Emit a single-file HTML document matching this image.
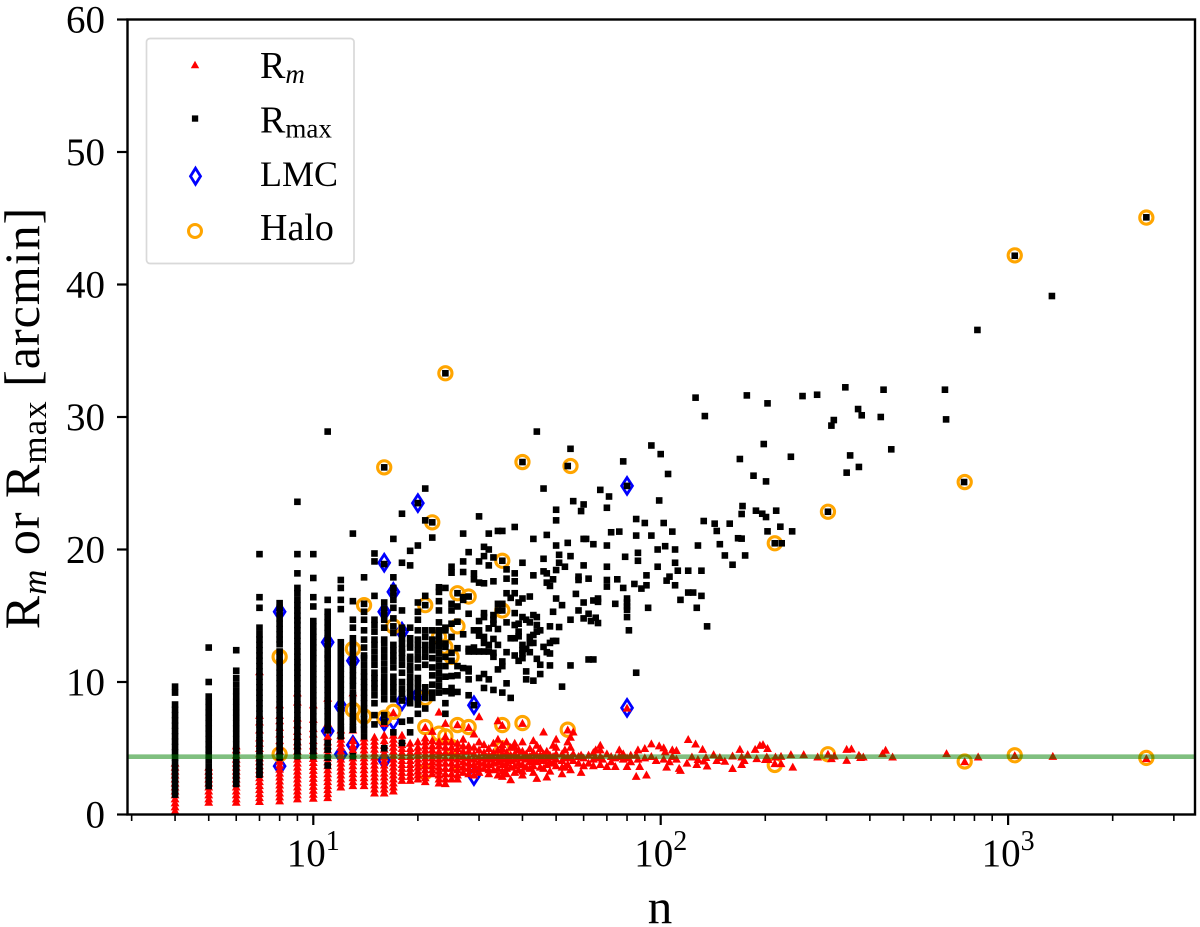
<!DOCTYPE html>
<html lang="en">
<head>
<meta charset="utf-8">
<title>Rm and Rmax versus n</title>
<style>
html,body{margin:0;padding:0;background:#fff;width:1200px;height:927px;overflow:hidden}
svg{display:block}
text{font-family:"Liberation Serif",serif;fill:#000}
</style>
</head>
<body>
<svg id="chart" width="1200" height="927" viewBox="0 0 1200 927" xmlns="http://www.w3.org/2000/svg">
  <g id="lmc-layer"></g>
  <g id="halo-layer"></g>
  <g id="rm-layer"></g>
  <g id="rmax-layer"></g>
  <g id="ref-layer"></g>
  <rect x="127.5" y="19.5" width="1067.5" height="795" fill="none" stroke="#000" stroke-width="2.4"></rect>
  <g id="tick-layer"></g>
  <text transform="translate(39,418) rotate(-90)" text-anchor="middle" font-size="50" style="letter-spacing:1px">R<tspan font-size="35" font-style="italic" dy="7">m</tspan><tspan dy="-7"> or R</tspan><tspan font-size="35" dy="7">max</tspan><tspan dy="-7"> [arcmin]</tspan></text>
  <text x="660" y="923" text-anchor="middle" font-size="49">n</text>
  <g>
    <rect x="146.5" y="38.5" width="207.5" height="225" rx="3.5" fill="#fff" fill-opacity="0.8" stroke="#d9d9d9" stroke-width="1.7"></rect>
    <polygon points="195,60.7 199.2,68.3 190.8,68.3" fill="#f00"></polygon>
    <text x="260" y="78" font-size="38">R<tspan font-size="27" font-style="italic" dy="5">m</tspan></text>
    <rect x="191.9" y="115.4" width="6.3" height="6.3" fill="#000"></rect>
    <text x="260" y="132.5" font-size="38">R<tspan font-size="27" dy="5">max</tspan></text>
    <polygon points="195.5,168.2 200.5,176.2 195.5,184.2 190.5,176.2" fill="none" stroke="#00f" stroke-width="2.8"></polygon>
    <text x="260" y="186" font-size="36">LMC</text>
    <circle cx="195" cy="231" r="6.5" fill="none" stroke="#ffa500" stroke-width="3"></circle>
    <text x="260" y="240" font-size="38">Halo</text>
  </g>
</svg>
<script>
const yTicks = [0, 10, 20, 30, 40, 50, 60];
const xMajorTicks = [10, 100, 1000];
const xMajorExponents = ["1", "2", "3"];
const xMinorTicks = [3, 4, 5, 6, 7, 8, 9, 20, 30, 40, 50, 60, 70, 80, 90, 200, 300, 400, 500, 600, 700, 800, 900, 2000, 3000];
const referenceLevel = [4.36];

const rmaxN = [4,5,6,7,8,9,10,11,12,13,14,15,16,17,18,19,20,21,22,23,24,25,26,27,28,29,30,31,32,33,34,35,36,37,38,39,40,41,42,43,44,45,46,47,48,49,50,51,52,53,54,55,56,57,58,59,60,61,62,63,64,65,66,67,70,71,72,74,75,76,78,79,80,81,84,85,86,88,90,91,92,94,98,99,100,102,103,104,105,106,108,110,112,114,120,124,126,127,128,131,133,134,136,143,145,148,153,158,161,167,169,171,172,175,177,185,188,196,198,201,203,213,215,221,223,237,239,256,282,303,310,315,340,343,351,370,372,379,430,438,461,658,663,747,816,1045,1337,2500];
const rmaxV = [
/*4*/[9.65,9.2,8.3,7.9,7.5,7.1,6.7,6.3,5.9,5.5,5.1,4.7,4.3,3.9,3.5,3.1,2.7,2.3,1.9,1.5],
/*5*/[12.6,10,8.9,8.5,8.1,7.7,7.3,6.9,6.5,6.1,5.7,5.3,4.9,4.5,4.1,3.6,3.2,2.8,2.4,2.15],
/*6*/[12.4,10.85,10.3,9.8,9.3,8.9,8.5,8.1,7.7,7.3,6.9,6.5,6.1,5.7,5.3,4.9,4.5,4.1,3.7,3.3,2.9,2.7,2.3],
/*7*/[19.65,16.4,15.6,14.1,13.6,13.2,12.8,12.4,12,11.6,11.2,10.8,10.4,10,9.6,9.2,8.8,8.4,8,7.6,7.2,6.8,6.4,6,5.6,5.2,4.8,4.4,4,3.6,3.2,3],
/*8*/[15.95,15.6,15.2,14.8,14.4,14,13.6,13.2,12.85,12.3,11.9,11.5,11.1,10.7,10.3,9.9,9.5,9.1,8.7,8.3,7.9,7.5,7.1,6.7,6.3,5.9,5.5,5.1,4.7,4.3],
/*9*/[23.6,19.65,18.2,17.1,16.7,16.2,15.8,15.4,15,14.65,14.3,13.9,13.5,13.1,12.7,12.3,11.9,11.5,11.1,10.7,10.3,9.9,9.5,9.1,8.7,8.3,7.9,7.5,7.1,6.7,6.3,5.9,5.5,5.2,4.8,4.4],
/*10*/[19.65,17.85,16.4,15.7,14.6,14.2,13.8,13.4,13,12.6,12.2,11.8,11.4,11,10.6,10.2,9.8,9.4,9,8.6,8.2,7.8,7.4,7,6.6,6.2,5.8,5.4,5,4.6,4.4],
/*11*/[28.9,16.2,15.3,14.9,14.5,14.1,13.7,13.3,12.9,12.5,12.05,11.8,11.4,11,10.6,10.2,9.8,9.4,9,8.6,8.2,7.8,7.4,7,6.6,6.35,5.4,4.9,4.3,3.7],
/*12*/[17.7,17.1,16.2,15.5,13,12.6,12.2,11.8,11.4,11,10.6,10.2,9.8,9.4,9,8.6,8.2,7.8,7.4,7,6.6,6.4,5.9],
/*13*/[21.2,16.1,14.7,14.1,13.3,12.9,12.5,12.1,11.7,11.3,10.9,10.5,10.1,9.7,9.2,9,8.6,8.2,7.8,7.4,7,6.6,6.4,4.4],
/*14*/[17.9,15.9,15.3,14.7,13.9,13.2,12.6,12,11.8,11.3,10.8,10.4,10,9.6,9.2,8.8,8.4,8,7.6,7.2,6.8,6.4,5.9],
/*15*/[19.7,19.1,16.5,14.7,14.3,13.8,13.2,12.8,12.3,11.8,11.3,10.7,10.3,9.9,9.5,9,8.4,7.5,6.8],
/*16*/[26.2,18.9,16,15.5,15.1,14.7,14.1,13.2,12.9,12.4,11.9,11.4,10.9,10.4,10,9.6,9.2,8.7,7.5,7,5],
/*17*/[20.8,17.9,17.1,16.7,16.2,15.6,14.8,14.2,13.7,12.8,12.4,12,11.6,11.1,10.4,10,9.6,9.2,8.7,6.2],
/*18*/[22.7,19,15.4,14.1,13.7,13.3,12.9,12.5,12.2,11.8,11.3,10.7,10,9.5,9.1,8.6,7,5.4],
/*19*/[19.9,18.8,14.1,13.3,12.9,12.6,11.9,11.7,11.2,10.9,10.4,10,9.6,9.2,8.8,8.4,7.1,6.2],
/*20*/[23.5,20.3,16,15.3,14.7,13.9,13.2,12.8,12.4,11.9,11.7,11.1,10.3,9.9,9.5,9.1,8.7,8.3,7.6],
/*21*/[24.6,22.2,16.5,15.8,13.9,13.4,12.8,12.4,11.9,11.3,9.6,9.2,8.8,8],
/*22*/[22.05,20.9,13.9,13.2,12.8,12.4,11.8,11.1,10.5,9.8,9.2,8.8],
/*23*/[17.15,16.8,16.1,15.4,14.5,13.9,13.5,13.1,12.7,12.2,11.7,11.2,10.7,10.2,9.7,9.2],
/*24*/[33.3,17.1,14.1,13.9,12.9,12.65,11.9,11.2,10.4,9.3,8.4,7.6],
/*25*/[18.7,18.25,15.9,15.4,14.4,13.4,12.2,11.6,10.45,9.55,9.15],
/*26*/[16.7,15.7,14.55,12.55,11.2,10.5,9.25],
/*27*/[21.2,19.1,18.3,16.4,16.2,13.6,11.05],
/*28*/[19.8,16.45,15.15,12.5,12.3,11,10.8,10.2,9],
/*29*/[18.2,17.75,13.9,12.6,12.3,8.25],
/*30*/[22.5,19.1,17.5,14.6,13.9,13.5,12.3,10.3],
/*31*/[20.2,19.5,17.45,15.2,14.9,13.4,12.95,12.3,10.6,9.55],
/*32*/[21.2,20,18.8,14.05,12.8,12.3,10.2],
/*33*/[19.4,17.6,15.05,14.7,14.4,13.25,12.2,11.9,9.4],
/*34*/[21.4,15.9,15.4,14,12.8,10.95],
/*35*/[21.4,19.15,15.9,15.4,11.55,11.2,9.2],
/*36*/[18.5,17.8,16.7,14.5,12.25,9.9],
/*37*/[16.35,13.3,8.8],
/*38*/[21.7,18.2,17.6,16.7,15.2,14.3,13.3,12],
/*39*/[16,14.4,13.8,13.45,11.6],
/*40*/[26.6,19,16.3,14.9,12.8,12.4,12.15,11.8],
/*41*/[14.7,12.5,10.8,10.2],
/*42*/[16.45,14.5,13.4,12.95,12.25],
/*43*/[20.8,18.05,15.05,13.55,12.95,10.1],
/*44*/[28.9,14.9,14.3,13.8,11.75],
/*45*/[13.9,11.3,10.6],
/*46*/[24.6,19.3,18.35,12.65],
/*47*/[21.1,18.2,17.5,12.25],
/*48*/[17.25,14.2,12.95,12.15,11.25],
/*49*/[17.75,15.3,13.1],
/*50*/[23,22.2,20.3,18.45,16.3,13.1],
/*51*/[19.6,19,14.15],
/*52*/[15.8,9.65],
/*53*/[18.7],
/*54*/[26.3,20.5],
/*55*/[27.6,19.5,14.7,11.25],
/*56*/[23.65],
/*57*/[16.65],
/*58*/[17.95,17.7,15.4],
/*59*/[22.9],
/*60*/[23.4,20.8,18.8,16,14.8],
/*61*/[20.8],
/*62*/[17.8,15.15,11.7],
/*63*/[14.6],
/*64*/[20.4,16.15,11.7],
/*65*/[14.85],
/*66*/[16.3,16.05,14.45],
/*67*/[24.5],
/*70*/[23.15,20.3,18.7,17.7,17.2],
/*71*/[24],
/*72*/[21.3],
/*74*/[15.9],
/*75*/[17.75],
/*76*/[21.35],
/*78*/[26.65,17.1],
/*79*/[19.45],
/*80*/[24.8,16.3,16,15.7,15.45,14.9],
/*81*/[13.9],
/*84*/[17.4],
/*85*/[22.3,21.05,10.7],
/*86*/[19.75,19.15],
/*88*/[17.05],
/*90*/[22],
/*91*/[18.05,17.3],
/*92*/[15.6],
/*94*/[27.85,21.05],
/*98*/[20,18.7],
/*99*/[23.7],
/*100*/[27.2],
/*102*/[22],
/*103*/[20.25],
/*104*/[17.65],
/*105*/[25.7],
/*106*/[17.95],
/*108*/[21.35],
/*110*/[20,19,17.3],
/*112*/[18.4],
/*114*/[16.2],
/*120*/[18.4,16.75],
/*124*/[16.75],
/*126*/[31.46],
/*127*/[15.6],
/*128*/[20.3],
/*131*/[18.4,16.5],
/*133*/[22.15],
/*134*/[30.07],
/*136*/[14.2],
/*143*/[21.95],
/*145*/[21.4],
/*148*/[20.4],
/*153*/[19.55],
/*158*/[21.95],
/*161*/[18.85],
/*167*/[20.85],
/*169*/[26.83],
/*171*/[22.68,20.82],
/*172*/[23.28],
/*175*/[19.55],
/*177*/[31.63],
/*185*/[25.57],
/*188*/[22.93],
/*196*/[22.7],
/*198*/[27.96],
/*201*/[25.14,22.45],
/*203*/[31.03,21.37],
/*213*/[20.47],
/*215*/[22.93],
/*221*/[21.72],
/*223*/[20.47],
/*237*/[27],
/*239*/[21.37],
/*256*/[31.58],
/*282*/[31.68],
/*303*/[22.85],
/*310*/[29.35],
/*315*/[29.77],
/*340*/[32.24],
/*343*/[25.8],
/*351*/[27.1],
/*370*/[30.6],
/*372*/[26.23],
/*379*/[30.13],
/*430*/[30],
/*438*/[32.06],
/*461*/[27.56],
/*658*/[32.06],
/*663*/[29.82],
/*747*/[25.09],
/*816*/[36.57],
/*1045*/[42.17],
/*1337*/[39.13],
/*2500*/[45.07]
];

const rmN = [4,5,6,7,8,9,10,11,12,13,14,15,16,17,18,19,20,21,22,23,24,25,26,27,28,29,30,31,32,33,34,35,36,37,38,39,40,41,42,43,44,45,46,47,48,49,50,52,53,54,55,56,58,59,60,62,64,65,67,68,70,72,74,76,78,80,82,85,86,87,90,91,94,97,99,102,103,104,106,108,111,113,114,119,120,123,126,127,128,132,133,135,136,142,145,148,153,161,169,171,174,178,187,189,193,197,200,202,203,204,213,214,222,237,240,258,283,303,310,316,343,354,372,376,383,435,444,465,665,750,820,1045,1345,2500];
const rmV = [
/*4*/[0.3,0.6,0.9,1.2,1.5,1.8,2.1,2.4,2.7,3,3.3,3.6,3.9],
/*5*/[0.95,1.2,1.5,1.8,2.1,2.4,2.7,3,3.3,3.6],
/*6*/[0.95,1.2,1.5,1.8,2.1,2.4,2.7,3,3.3,3.6,3.9,4.2,4.5,4.9,5.2],
/*7*/[1,1.3,1.6,1.9,2.2,2.5,2.8,3.1,3.4,3.7,4,4.3,4.6,5,5.4,5.8,6.4,7,7.5,10.8],
/*8*/[1.05,1.35,1.65,1.95,2.25,2.55,2.85,3.15,3.45,3.75,4.05,4.4,4.8,5.2,5.6,6.1,6.6,7.1,7.5,8.3],
/*9*/[1.2,1.5,1.8,2.1,2.4,2.7,3,3.3,3.6,3.9,4.2,4.5,4.8,5.2,5.5,5.9,6.3,6.8,7.3,8.5,9.2],
/*10*/[1.25,1.55,1.85,2.15,2.45,2.75,3.05,3.35,3.65,3.95,4.25,4.55,4.85,5.2,5.6,6.1,6.5,7.2,8.3],
/*11*/[1.3,1.6,1.9,2.2,2.5,2.8,3.1,3.4,3.7,4,4.3,4.6,4.9,5.2,5.5,5.9,6.4,6.9,8.8],
/*12*/[2.1,2.4,2.7,3,3.3,3.6,3.9,4.2,4.5,4.8,5.1,5.4,5.7,6,6.4],
/*13*/[2.2,2.5,2.8,3.1,3.4,3.7,4,4.3,4.6,4.9,5.2,5.6,6.4,9.2],
/*14*/[2.2,2.5,2.8,3.1,3.4,3.7,4,4.3,4.6,4.9,5.2,5.5,5.8],
/*15*/[1.65,1.95,2.25,2.55,2.85,3.15,3.45,3.75,4.05,4.35,4.65,4.95,5.25,5.55,5.85],
/*16*/[1.65,1.95,2.25,2.55,2.85,3.15,3.45,3.75,4.05,4.35,4.65,4.95,5.25,5.6,6,6.9],
/*17*/[1.8,2.1,2.4,2.7,3,3.3,3.6,3.9,4.2,4.5,4.8,5.1,5.4,5.7,6,7.7],
/*18*/[2.6,2.9,3.2,3.5,3.8,4.1,4.4,4.7,5,5.3,5.6,6],
/*19*/[2.6,2.9,3.2,3.5,3.8,4.1,4.4,4.7,5,5.4],
/*20*/[2.7,3,3.3,3.6,3.9,4.2,4.5,4.8,5.1,5.5],
/*21*/[2.5,2.8,3.1,3.4,3.7,4,4.3,4.6,4.9,5.2,5.5,5.8,6.6],
/*22*/[3.1,3.4,3.7,4,4.3,4.6,4.9,5.2,5.6,6.3],
/*23*/[2.4,2.7,3,3.3,3.6,3.9,4.2,4.5,4.8,5.2,5.5,7.75],
/*24*/[2.35,2.7,3.1,3.5,3.9,4.3,4.7,5.1,5.5,5.9,6.9],
/*25*/[2.7,3.1,3.5,3.9,4.3,4.7,5.1,5.5],
/*26*/[2.7,3,3.4,3.8,4.2,4.6,5,5.4,6.8],
/*27*/[3.2,3.6,4,4.4,4.8,5.2,5.7],
/*28*/[3.1,3.5,3.9,4.3,4.8,5.2,6.6],
/*29*/[3,3.4,3.8,4.2,4.6,5.1,6.1],
/*30*/[3.2,3.6,4,4.4,4.9,5.5,7.4],
/*31*/[3.5,3.9,4.3,4.7,5.3],
/*32*/[3.1,3.4,3.8,4.2,4.5,5],
/*33*/[3.4,3.9,4.3,4.7,5.4],
/*34*/[3,3.5,4,4.4,4.9,5.7,7.1],
/*35*/[2.9,3.3,3.8,4.2,4.6,5,5.3,6.75],
/*36*/[3.1,3.5,3.9,4.3,4.7,5.5],
/*37*/[2.65,3.6,4.1,4.5,5.1],
/*38*/[3.2,3.7,4.2,4.6,5.1,5.4],
/*39*/[3.4,3.9,4.4,4.9],
/*40*/[3,3.3,3.8,4.3,4.8,5.5,6.9],
/*41*/[3.6,4.2,4.6],
/*42*/[3.5,4,4.4,5],
/*43*/[3.2,3.7,4.2,4.7,5.6],
/*44*/[2.75,4,4.5,5.25],
/*45*/[3.6,4.2,4.5,5],
/*46*/[3.5,4.1,4.6,6.25],
/*47*/[2.85,3.8,4.3,4.8],
/*48*/[3.3,4,4.5],
/*49*/[3.9,4.4,5.25],
/*50*/[3.7,4.2,4.6,5.1,5.7],
/*52*/[3.1,3.6,4.1,4.6],
/*53*/[3.6,4.3,4.9],
/*54*/[3.8,4.4,5.5,6.4],
/*55*/[3.4,4.3,5.1,5.85],
/*56*/[4.1,4.6,6.25],
/*58*/[3.9,4.4],
/*59*/[3.2,4.5],
/*60*/[3.7,4.3],
/*62*/[3.9,4.5],
/*64*/[3.7,4.2,4.7],
/*65*/[4.3,4.9],
/*67*/[3.8,4.4,4.9,5.25],
/*68*/[4.2],
/*70*/[3.65,4.6],
/*72*/[4,4.4],
/*74*/[3.65,4.3],
/*76*/[4.4,4.9],
/*78*/[4.2,4.6],
/*80*/[3.65,4.3,8.05],
/*82*/[4,4.5],
/*85*/[2.9,4.5],
/*86*/[4.2,4.9],
/*87*/[3.65],
/*90*/[4.3,5],
/*91*/[3],
/*94*/[4.4,5.35],
/*97*/[4.1],
/*99*/[5.2],
/*102*/[4.2,5.05],
/*103*/[4.75],
/*104*/[3.6],
/*106*/[4],
/*108*/[4.4,4.9],
/*111*/[4.2,4.85],
/*113*/[3.5],
/*114*/[3.35],
/*119*/[3.9],
/*120*/[5.68],
/*123*/[4.36],
/*126*/[5.34],
/*127*/[3.8],
/*128*/[4.17],
/*132*/[4.94],
/*133*/[4.06],
/*135*/[4.32],
/*136*/[3.68],
/*142*/[4.54],
/*145*/[4.1],
/*148*/[4.32],
/*153*/[4.04],
/*161*/[4.44,3.49],
/*169*/[4.94],
/*171*/[4.36,3.8],
/*174*/[4.1],
/*178*/[4.54],
/*187*/[4.94],
/*189*/[4.24],
/*193*/[5.24],
/*197*/[5.3],
/*200*/[4.17],
/*202*/[4.36],
/*203*/[5],
/*204*/[4.17],
/*213*/[3.86],
/*214*/[4.36],
/*222*/[3.86,4.41],
/*237*/[4.54],
/*240*/[3.6],
/*258*/[4.54],
/*283*/[4.36],
/*303*/[4.57],
/*310*/[4.24],
/*316*/[4.44],
/*343*/[4.94,4.11],
/*354*/[4.97],
/*372*/[4.49],
/*376*/[4.32],
/*383*/[4.36],
/*435*/[4.62],
/*444*/[4.87],
/*465*/[4.36],
/*665*/[4.62],
/*750*/[4.01],
/*820*/[4.36],
/*1045*/[4.47],
/*1345*/[4.41],
/*2500*/[4.24]
];

const lmcN = [8,8,11,11,12,12,13,13,16,16,16,16,17,17,18,18,20,20,29,29,80,80];
const lmcV = [15.3,3.65,13,6.3,8.15,4.55,11.6,5.25,19,15.3,7,4.1,16.8,7.1,13.8,8.55,23.5,9,8.25,2.9,24.8,8.05];

const haloN = [8,8,13,13,14,14,16,16,17,17,21,21,21,21,22,23,23,24,24,24,25,25,26,26,26,26,28,28,35,35,35,35,40,40,55,54,213,213,303,303,750,750,1045,1045,2500,2500];
const haloV = [11.9,4.55,12.5,7.9,15.8,7.4,26.2,7.3,14.2,7.75,15.8,8.8,6.6,3.2,22.05,13.4,6.1,33.3,12.65,5.9,11.9,5.1,16.7,14.2,6.75,3.9,16.45,6.6,19.15,15.4,6.75,5,26.6,6.9,26.3,6.4,20.47,3.74,22.85,4.55,25.09,4,42.2,4.47,45.05,4.27];

const NS = "http://www.w3.org/2000/svg";
function xScale(n) { return 313.3 + 347.4 * (Math.log10(n) - 1); }
function yScale(v) { return 814.5 - 13.25 * v; }
function make(tag, attrs) {
  const el = document.createElementNS(NS, tag);
  for (const k in attrs) el.setAttribute(k, attrs[k]);
  return el;
}

const lmcLayer = document.getElementById("lmc-layer");
lmcN.forEach(function (n, i) {
  const x = xScale(n), y = yScale(lmcV[i]);
  const el = make("polygon", {
    points: x + "," + (y - 8.3) + " " + (x + 5.4) + "," + y + " " + x + "," + (y + 8.3) + " " + (x - 5.4) + "," + y,
    fill: "none", stroke: "#00f", "stroke-width": 2.8
  });
  
  
  lmcLayer.appendChild(el);
});

const haloLayer = document.getElementById("halo-layer");
haloN.forEach(function (n, i) {
  const el = make("circle", {
    cx: xScale(n), cy: yScale(haloV[i]), r: 6.6,
    fill: "none", stroke: "#ffa500", "stroke-width": 3.1
  });
  
  
  haloLayer.appendChild(el);
});

const rmLayer = document.getElementById("rm-layer");
rmN.forEach(function (n, g) {
  (rmV[g] || []).forEach(function (v) {
    const x = xScale(n), y = yScale(v);
    const el = make("polygon", {
      points: x + "," + (y - 4.2) + " " + (x + 4.4) + "," + (y + 3.8) + " " + (x - 4.4) + "," + (y + 3.8),
      fill: "#f00"
    });
    
    
    rmLayer.appendChild(el);
  });
});

const rmaxLayer = document.getElementById("rmax-layer");
rmaxN.forEach(function (n, g) {
  (rmaxV[g] || []).forEach(function (v) {
    const el = make("rect", {
      x: xScale(n) - 3.3, y: yScale(v) - 3.3, width: 6.6, height: 6.6, fill: "#000"
    });
    
    
    rmaxLayer.appendChild(el);
  });
});

const refLayer = document.getElementById("ref-layer");
const refLine = make("line", {
  x1: 127.5, x2: 1195, y1: yScale(referenceLevel[0]), y2: yScale(referenceLevel[0]),
  stroke: "#008000", "stroke-opacity": 0.5, "stroke-width": 4.6
});


refLayer.appendChild(refLine);

const tickLayer = document.getElementById("tick-layer");
yTicks.forEach(function (t) {
  const y = yScale(t);
  const tick = make("line", { x1: 117, x2: 127.5, y1: y, y2: y, stroke: "#000", "stroke-width": 2.2 });
  
  
  tickLayer.appendChild(tick);
  const label = make("text", { x: 105, y: y + 13, "text-anchor": "end", "font-size": 39 });
  label.textContent = String(t);
  
  
  tickLayer.appendChild(label);
});
xMinorTicks.forEach(function (t) {
  const x = xScale(t);
  const tick = make("line", { x1: x, x2: x, y1: 814.5, y2: 821, stroke: "#000", "stroke-width": 1.6 });
  
  
  tickLayer.appendChild(tick);
});
xMajorTicks.forEach(function (t, i) {
  const x = xScale(t);
  const tick = make("line", { x1: x, x2: x, y1: 814.5, y2: 825, stroke: "#000", "stroke-width": 2.2 });
  
  
  tickLayer.appendChild(tick);
  const label = make("text", { x: x, y: 866, "text-anchor": "middle", "font-size": 39 });
  label.textContent = "10";
  const sup = make("tspan", { "font-size": 28, dy: -16 });
  sup.textContent = xMajorExponents[i];
  label.appendChild(sup);
  
  
  tickLayer.appendChild(label);
});
</script>
</body>
</html>
